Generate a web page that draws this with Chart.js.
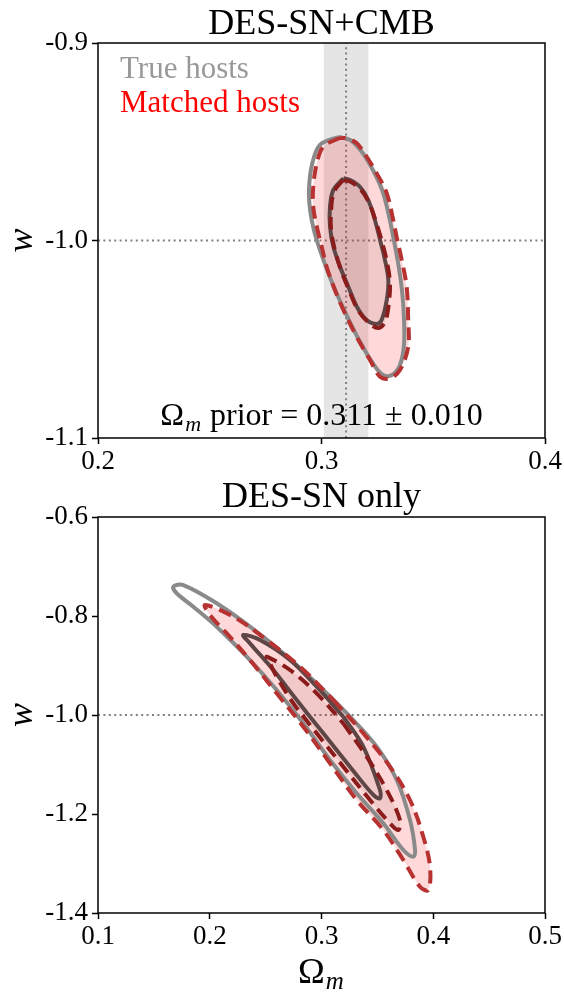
<!DOCTYPE html>
<html>
<head>
<meta charset="utf-8">
<script src="https://cdn.jsdelivr.net/npm/chart.js@4.4.1/dist/chart.umd.min.js"></script>
<style>
  html, body { margin: 0; padding: 0; background: #fff; }
  canvas { position: absolute; left: 0; }
  #topChart { top: 0; }
  #bottomChart { top: 478px; }
</style>
</head>
<body>
<canvas id="topChart" width="564" height="478"></canvas>
<canvas id="bottomChart" width="564" height="519"></canvas>
<script>
// TOP PANEL: DES-SN+CMB
let cmbXTicks = [0.2, 0.3, 0.4];
let cmbXTickLabels = ["0.2", "0.3", "0.4"];
let cmbYTicks = [-1.1, -1.0, -0.9];
let cmbYTickLabels = ["-1.1", "-1.0", "-0.9"];
let omPrior = 0.311;
let omPriorErr = 0.010;

let cmbTrueOuterOm = [0.3074, 0.2993, 0.2957, 0.2944, 0.2949, 0.2966, 0.2993, 0.3025, 0.3065, 0.3114, 0.3168, 0.3226, 0.3275, 0.3315, 0.3351, 0.3369, 0.3369, 0.3360, 0.3342, 0.3320, 0.3298, 0.3271, 0.3230, 0.3181, 0.3128];
let cmbTrueOuterW = [-0.9476, -0.9516, -0.9618, -0.9744, -0.9846, -0.9947, -1.0048, -1.0149, -1.0261, -1.0382, -1.0504, -1.0615, -1.0681, -1.0681, -1.0630, -1.0529, -1.0392, -1.0251, -1.0109, -0.9977, -0.9856, -0.9744, -0.9643, -0.9552, -0.9491];
let cmbTrueInnerOm = [0.3098, 0.3053, 0.3038, 0.3038, 0.3053, 0.3083, 0.3120, 0.3158, 0.3202, 0.3247, 0.3269, 0.3292, 0.3299, 0.3284, 0.3262, 0.3239, 0.3209, 0.3172, 0.3128];
let cmbTrueInnerW = [-0.9685, -0.9744, -0.9829, -0.9930, -1.0031, -1.0133, -1.0234, -1.0335, -1.0403, -1.0423, -1.0403, -1.0301, -1.0200, -1.0099, -0.9997, -0.9896, -0.9795, -0.9728, -0.9694];
let cmbMatchedOuterOm = [0.3083, 0.3008, 0.2979, 0.2963, 0.2963, 0.2979, 0.3001, 0.3023, 0.3060, 0.3105, 0.3157, 0.3217, 0.3262, 0.3306, 0.3351, 0.3388, 0.3388, 0.3381, 0.3359, 0.3336, 0.3321, 0.3292, 0.3247, 0.3202, 0.3158, 0.3113];
let cmbMatchedOuterW = [-0.9480, -0.9525, -0.9609, -0.9728, -0.9829, -0.9930, -1.0031, -1.0133, -1.0251, -1.0369, -1.0487, -1.0605, -1.0690, -1.0698, -1.0656, -1.0538, -1.0403, -1.0234, -1.0099, -0.9981, -0.9896, -0.9761, -0.9660, -0.9576, -0.9508, -0.9483];
let cmbMatchedInnerOm = [0.3096, 0.3056, 0.3043, 0.3043, 0.3060, 0.3087, 0.3123, 0.3163, 0.3208, 0.3253, 0.3284, 0.3302, 0.3306, 0.3293, 0.3271, 0.3244, 0.3213, 0.3177, 0.3132];
let cmbMatchedInnerW = [-0.9694, -0.9754, -0.9846, -0.9947, -1.0048, -1.0149, -1.0251, -1.0352, -1.0413, -1.0443, -1.0413, -1.0311, -1.0210, -1.0109, -1.0008, -0.9906, -0.9810, -0.9744, -0.9704];

// BOTTOM PANEL: DES-SN only
let snXTicks = [0.1, 0.2, 0.3, 0.4, 0.5];
let snXTickLabels = ["0.1", "0.2", "0.3", "0.4", "0.5"];
let snYTicks = [-1.4, -1.2, -1.0, -0.8, -0.6];
let snYTickLabels = ["-1.4", "-1.2", "-1.0", "-0.8", "-0.6"];

let snTrueOuterOm = [0.2957, 0.3255, 0.3494, 0.3673, 0.3792, 0.3837, 0.3822, 0.3732, 0.3553, 0.3315, 0.3076, 0.2837, 0.2599, 0.2360, 0.2062, 0.1853, 0.1704, 0.1674, 0.1763, 0.2062, 0.2360, 0.2658];
let snTrueOuterW = [-0.9360, -1.0034, -1.0640, -1.1313, -1.2121, -1.2727, -1.2863, -1.2727, -1.2188, -1.1582, -1.0909, -1.0168, -0.9495, -0.8889, -0.8216, -0.7812, -0.7541, -0.7408, -0.7374, -0.7743, -0.8216, -0.8754];
let snTrueInnerOm = [0.3195, 0.3374, 0.3523, 0.3523, 0.3464, 0.3255, 0.3016, 0.2778, 0.2569, 0.2360, 0.2300, 0.2450, 0.2718, 0.2957];
let snTrueInnerW = [-1.0034, -1.0640, -1.1515, -1.1683, -1.1616, -1.1044, -1.0370, -0.9697, -0.9091, -0.8552, -0.8384, -0.8485, -0.8889, -0.9428];
let snMatchedOuterOm = [0.3106, 0.3374, 0.3613, 0.3792, 0.3911, 0.3971, 0.3956, 0.3881, 0.3732, 0.3553, 0.3315, 0.3076, 0.2837, 0.2599, 0.2360, 0.2152, 0.2002, 0.1958, 0.2211, 0.2510, 0.2808];
let snMatchedOuterW = [-0.9697, -1.0370, -1.1044, -1.1717, -1.2459, -1.3065, -1.3535, -1.3469, -1.2929, -1.2323, -1.1717, -1.0976, -1.0236, -0.9562, -0.8889, -0.8349, -0.7980, -0.7778, -0.8014, -0.8485, -0.9024];
let snMatchedInnerOm = [0.3195, 0.3404, 0.3583, 0.3702, 0.3687, 0.3613, 0.3434, 0.3195, 0.2957, 0.2748, 0.2599, 0.2524, 0.2510, 0.2718, 0.2957];
let snMatchedInnerW = [-1.0168, -1.0842, -1.1515, -1.2121, -1.2323, -1.2188, -1.1717, -1.1044, -1.0370, -0.9764, -0.9226, -0.8889, -0.8822, -0.9091, -0.9562];

let wFiducial = -1.0;

// STYLE
const SERIF = "'Liberation Serif', 'Times New Roman', serif";
const GRAY_OUT = "#8a8a8a";
const GRAY_IN = "#5e4646";
const RED_OUT = "#b83232";
const RED_IN = "#8a1c1c";

// closed loop of (x, y) points
function loop(xs, ys) {
    let pts = xs.map((x, i) => ({ x: x, y: ys[i] }));
    pts.push(pts[0]);
    return pts;
}

function fillSet(xs, ys, color, order) {
    return { data: loop(xs, ys), showLine: true, fill: "shape", backgroundColor: color,
             borderColor: "rgba(0,0,0,0)", borderWidth: 1, pointRadius: 0, tension: 0.35, order: order };
}

function lineSet(xs, ys, color, dashed, order) {
    return { data: loop(xs, ys), showLine: true, fill: false, borderColor: color,
             borderWidth: 4, borderDash: dashed ? [13, 7] : [], pointRadius: 0,
             tension: 0.35, order: order };
}

function dotted(pts, order) {
    return { data: pts, showLine: true, fill: false, borderColor: "#808080", borderWidth: 2,
             borderDash: [2, 3.4], pointRadius: 0, tension: 0, order: order };
}

function axes(xMin, xMax, xTicks, xLabels, yMin, yMax, yTicks, yLabels, xAxisHeight) {
    let common = {
        type: "linear",
        grid: { drawOnChartArea: false, drawTicks: true, tickLength: 6, tickColor: "#000", tickWidth: 1.5 },
        border: { display: false }
    };
    return {
        x: Object.assign({}, common, {
            min: xMin, max: xMax,
            afterBuildTicks: s => { s.ticks = xTicks.map(v => ({ value: v })); },
            afterFit: s => { s.height = xAxisHeight; },
            ticks: { color: "#000", font: { family: SERIF, size: 27 }, padding: 2, maxRotation: 0,
                     callback: (v, i) => xLabels[i] }
        }),
        y: Object.assign({}, common, {
            min: yMin, max: yMax,
            afterBuildTicks: s => { s.ticks = yTicks.map(v => ({ value: v })); },
            afterFit: s => { s.width = 98; },
            ticks: { color: "#000", font: { family: SERIF, size: 27 }, padding: 4,
                     callback: (v, i) => yLabels[i] }
        })
    };
}

// Omega with subscript m, returns width
function omegaM(ctx, x, y, size, draw) {
    ctx.font = size + "px " + SERIF;
    let w1 = ctx.measureText("\u03A9").width;
    let subSize = Math.round(size * 0.7);
    ctx.font = "italic " + subSize + "px " + SERIF;
    let w2 = ctx.measureText("m").width;
    if (draw) {
        ctx.font = size + "px " + SERIF;
        ctx.fillText("\u03A9", x, y);
        ctx.font = "italic " + subSize + "px " + SERIF;
        ctx.fillText("m", x + w1 + 1, y + size * 0.18);
    }
    return w1 + w2 + 2;
}

function frameAndW(chart, title, titleY) {
    let ctx = chart.ctx;
    let a = chart.chartArea;
    ctx.save();
    ctx.strokeStyle = "#000";
    ctx.lineWidth = 1.5;
    ctx.strokeRect(a.left, a.top, a.right - a.left, a.bottom - a.top);
    ctx.fillStyle = "#000";
    ctx.textAlign = "center";
    ctx.textBaseline = "alphabetic";
    ctx.font = "36px " + SERIF;
    ctx.fillText(title, (a.left + a.right) / 2, titleY);
    ctx.translate(23, (a.top + a.bottom) / 2);
    ctx.rotate(-Math.PI / 2);
    ctx.textBaseline = "middle";
    ctx.font = "italic 36px " + SERIF;
    ctx.fillText("w", 0, 0);
    ctx.restore();
}

const topDecor = {
    id: "topDecor",
    beforeDatasetsDraw(chart) {
        let ctx = chart.ctx;
        let a = chart.chartArea;
        let xs = chart.scales.x;
        let x1 = xs.getPixelForValue(omPrior - omPriorErr);
        let x2 = xs.getPixelForValue(omPrior + omPriorErr);
        ctx.save();
        ctx.fillStyle = "rgba(0,0,0,0.1)";
        ctx.fillRect(x1, a.top, x2 - x1, a.bottom - a.top);
        ctx.restore();
    },
    afterDraw(chart) {
        let ctx = chart.ctx;
        let a = chart.chartArea;
        frameAndW(chart, "DES-SN+CMB", 34);
        ctx.save();
        ctx.textAlign = "left";
        ctx.textBaseline = "alphabetic";
        ctx.font = "31px " + SERIF;
        ctx.fillStyle = "#999999";
        ctx.fillText("True hosts", 120, 78);
        ctx.fillStyle = "#ff0000";
        ctx.fillText("Matched hosts", 120, 112);
        // prior annotation
        ctx.fillStyle = "#000";
        let rest = " prior = " + omPrior.toFixed(3) + " \u00B1 " + omPriorErr.toFixed(3);
        let wOm = omegaM(ctx, 0, 0, 32, false);
        ctx.font = "32px " + SERIF;
        let wRest = ctx.measureText(rest).width;
        let x0 = (a.left + a.right) / 2 - (wOm + wRest) / 2;
        omegaM(ctx, x0, 425, 32, true);
        ctx.font = "32px " + SERIF;
        ctx.fillText(rest, x0 + wOm, 425);
        ctx.restore();
    }
};

const bottomDecor = {
    id: "bottomDecor",
    afterDraw(chart) {
        let ctx = chart.ctx;
        let a = chart.chartArea;
        frameAndW(chart, "DES-SN only", 29);
        ctx.save();
        ctx.fillStyle = "#000";
        ctx.textAlign = "left";
        ctx.textBaseline = "alphabetic";
        let w = omegaM(ctx, 0, 0, 36, false);
        omegaM(ctx, (a.left + a.right) / 2 - w / 2, 505, 36, true);
        ctx.restore();
    }
};

// TOP CHART
new Chart(document.getElementById("topChart"), {
    type: "scatter",
    data: {
        datasets: [
            lineSet(cmbMatchedInnerOm, cmbMatchedInnerW, RED_IN, true, 0),
            lineSet(cmbMatchedOuterOm, cmbMatchedOuterW, RED_OUT, true, 1),
            lineSet(cmbTrueInnerOm, cmbTrueInnerW, GRAY_IN, false, 2),
            lineSet(cmbTrueOuterOm, cmbTrueOuterW, GRAY_OUT, false, 3),
            fillSet(cmbMatchedInnerOm, cmbMatchedInnerW, "rgba(110,30,30,0.09)", 4),
            fillSet(cmbMatchedOuterOm, cmbMatchedOuterW, "rgba(255,0,0,0.15)", 5),
            dotted([{ x: cmbXTicks[0], y: wFiducial }, { x: cmbXTicks[2], y: wFiducial }], 6),
            dotted([{ x: omPrior, y: cmbYTicks[0] }, { x: omPrior, y: cmbYTicks[2] }], 7)
        ]
    },
    options: {
        responsive: false,
        animation: false,
        events: [],
        layout: { padding: { left: 0, top: 43, right: 19, bottom: 0 } },
        scales: axes(0.2, 0.4, cmbXTicks, cmbXTickLabels, -1.1, -0.9, cmbYTicks, cmbYTickLabels, 40),
        plugins: { legend: { display: false }, tooltip: { enabled: false } }
    },
    plugins: [topDecor]
});

// BOTTOM CHART
new Chart(document.getElementById("bottomChart"), {
    type: "scatter",
    data: {
        datasets: [
            lineSet(snMatchedInnerOm, snMatchedInnerW, RED_IN, true, 0),
            lineSet(snMatchedOuterOm, snMatchedOuterW, RED_OUT, true, 1),
            lineSet(snTrueInnerOm, snTrueInnerW, GRAY_IN, false, 2),
            lineSet(snTrueOuterOm, snTrueOuterW, GRAY_OUT, false, 3),
            fillSet(snMatchedInnerOm, snMatchedInnerW, "rgba(110,30,30,0.09)", 4),
            fillSet(snMatchedOuterOm, snMatchedOuterW, "rgba(255,0,0,0.15)", 5),
            dotted([{ x: snXTicks[0], y: wFiducial }, { x: snXTicks[4], y: wFiducial }], 6)
        ]
    },
    options: {
        responsive: false,
        animation: false,
        events: [],
        layout: { padding: { left: 0, top: 39, right: 19, bottom: 0 } },
        scales: axes(0.1, 0.5, snXTicks, snXTickLabels, -1.4, -0.6, snYTicks, snYTickLabels, 84),
        plugins: { legend: { display: false }, tooltip: { enabled: false } }
    },
    plugins: [bottomDecor]
});
</script>
</body>
</html>
